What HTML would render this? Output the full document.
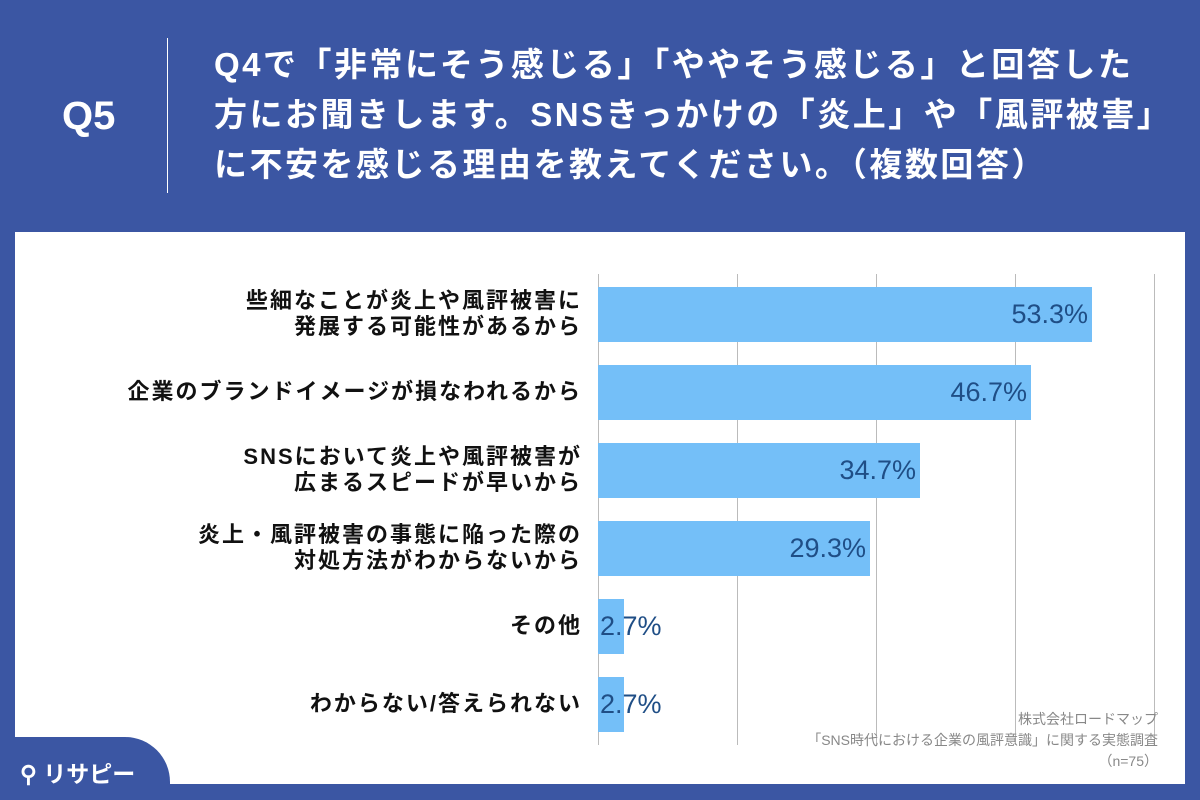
<!DOCTYPE html>
<html><head><meta charset="utf-8"><style>
body{margin:0;width:1200px;height:800px;background:#3b56a3;position:relative;overflow:hidden;font-family:"Liberation Sans","Noto Sans CJK JP",sans-serif}
.abs{position:absolute}
.title{left:214px;top:40px;color:#fff;font-weight:bold;font-size:33px;line-height:50px;white-space:nowrap;letter-spacing:2.5px}
.q{left:62px;top:94px;color:#fff;font-weight:bold;font-size:40px}
.sep{left:167px;top:38px;width:1px;height:155px;background:#fff}
.panel{left:15px;top:232px;width:1170px;height:552px;background:#fff}
.grid{top:274px;width:1px;height:471px;background:#bbb}
.bar{left:598px;height:55px;background:#74bff8}
.val{color:#1f4e86;font-size:27px;line-height:55px;text-align:right}
.lab{right:620px;font-size:22px;font-weight:bold;color:#111;text-align:right;line-height:26px;white-space:nowrap;letter-spacing:2px;margin-right:-2px}
.src{right:42px;color:#888;font-size:14px;text-align:right;line-height:21px}
.logo{left:0;top:737px;width:170px;height:63px;background:#3b56a3;border-top-right-radius:45px}
</style></head><body>
<div class="abs q">Q5</div>
<div class="abs sep"></div>
<div class="abs title">Q4で「非常にそう感じる」「ややそう感じる」と回答した<br>方にお聞きします。SNSきっかけの「炎上」や「風評被害」<br>に不安を感じる理由を教えてください。（複数回答）</div>
<div class="abs panel"></div>
<div class="abs grid" style="left:598px"></div>
<div class="abs grid" style="left:737px"></div>
<div class="abs grid" style="left:876px"></div>
<div class="abs grid" style="left:1015px"></div>
<div class="abs grid" style="left:1154px"></div>

<div class="abs bar" style="top:287px;width:494px"></div><div class="abs val" style="left:598px;top:287px;width:490px">53.3%</div>
<div class="abs bar" style="top:365px;width:433px"></div><div class="abs val" style="left:598px;top:365px;width:429px">46.7%</div>
<div class="abs bar" style="top:443px;width:322px"></div><div class="abs val" style="left:598px;top:443px;width:318px">34.7%</div>
<div class="abs bar" style="top:521px;width:272px"></div><div class="abs val" style="left:598px;top:521px;width:268px">29.3%</div>
<div class="abs bar" style="top:599px;width:26px"></div><div class="abs val" style="left:600px;top:599px;text-align:left">2.7%</div>
<div class="abs bar" style="top:677px;width:26px"></div><div class="abs val" style="left:600px;top:677px;text-align:left">2.7%</div>

<div class="abs lab" style="top:288px">些細なことが炎上や風評被害に<br>発展する可能性があるから</div>
<div class="abs lab" style="top:379px">企業のブランドイメージが損なわれるから</div>
<div class="abs lab" style="top:444px">SNSにおいて炎上や風評被害が<br>広まるスピードが早いから</div>
<div class="abs lab" style="top:522px">炎上・風評被害の事態に陥った際の<br>対処方法がわからないから</div>
<div class="abs lab" style="top:613px">その他</div>
<div class="abs lab" style="top:691px">わからない/答えられない</div>

<div class="abs src" style="top:709px">株式会社ロードマップ<br>「SNS時代における企業の風評意識」に関する実態調査<br>（n=75）</div>
<div class="abs logo"></div>
<div class="abs" style="left:20px;top:755px;color:#fff;font-size:23px;font-weight:bold">⚲ リサピー</div>
</body></html>
